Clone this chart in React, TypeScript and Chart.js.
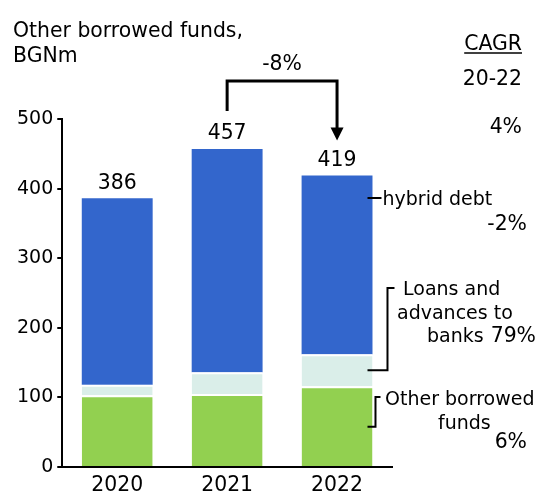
import React, { useEffect, useRef } from "react";
import { Chart, registerables } from "chart.js";

Chart.register(...registerables);

const years = ["2020", "2021", "2022"];
const otherBorrowed = [103, 105, 116];
const loansToBanks = [15, 31, 46];
const hybridDebt = [268, 321, 257];
const totals = [386, 457, 419];
const yTicks = [0, 100, 200, 300, 400, 500];
const changeLabel = "-8%";
const titleLines = ["Other borrowed funds,", "BGNm"];
const cagrHeader = ["CAGR", "20-22"];
const cagrTotal = "4%";
const cagrHybrid = "-2%";
const cagrLoans = "79%";
const cagrOther = "6%";

const FONT = '"DejaVu Sans", Verdana, sans-serif';

const annotations = {
  id: "annotations",
  afterDraw(chart: any) {
    const ctx = chart.ctx;
    const x = chart.scales.x;
    const y = chart.scales.y;
    ctx.save();
    ctx.fillStyle = "#000";
    ctx.strokeStyle = "#000";
    ctx.font = "20.4px " + FONT;
    ctx.textBaseline = "alphabetic";

    // title
    ctx.textAlign = "left";
    ctx.fillText(titleLines[0], 13, 37);
    ctx.fillText(titleLines[1], 13, 62);

    // totals above bars
    ctx.textAlign = "center";
    const cx = years.map((_, i) => x.getPixelForValue(i));
    const tops = totals.map((t) => y.getPixelForValue(t));
    totals.forEach((t, i) => {
      ctx.fillText(String(t), cx[i], tops[i] - 9.5);
    });

    // bracket -8%
    const hy = 81;
    ctx.lineWidth = 3;
    ctx.beginPath();
    ctx.moveTo(cx[1], tops[1] - 38);
    ctx.lineTo(cx[1], hy);
    ctx.lineTo(cx[2], hy);
    ctx.lineTo(cx[2], tops[2] - 47);
    ctx.stroke();
    ctx.beginPath();
    ctx.moveTo(cx[2] - 6.5, tops[2] - 48);
    ctx.lineTo(cx[2] + 6.5, tops[2] - 48);
    ctx.lineTo(cx[2], tops[2] - 35);
    ctx.closePath();
    ctx.fill();
    ctx.fillText(changeLabel, (cx[1] + cx[2]) / 2, 70);

    // CAGR column
    ctx.textAlign = "right";
    ctx.fillText(cagrHeader[0], 522, 50);
    const w = ctx.measureText(cagrHeader[0]).width;
    ctx.lineWidth = 1.5;
    ctx.beginPath();
    ctx.moveTo(522 - w, 53);
    ctx.lineTo(522, 53);
    ctx.stroke();
    ctx.fillText(cagrHeader[1], 522, 85);
    ctx.fillText(cagrTotal, 522, 133);
    ctx.fillText(cagrHybrid, 527, 230);
    ctx.fillText(cagrLoans, 536, 342);
    ctx.fillText(cagrOther, 527, 448);

    // series labels
    const barRight = chart.getDatasetMeta(2).data[2];
    const right = barRight.x + barRight.width / 2;
    ctx.font = "19px " + FONT;
    ctx.lineWidth = 2;
    // hybrid debt
    const hyY = 198;
    ctx.beginPath();
    ctx.moveTo(right - 5, hyY);
    ctx.lineTo(right + 9, hyY);
    ctx.stroke();
    ctx.textAlign = "left";
    ctx.fillText("hybrid debt", right + 10, hyY + 7);

    // loans
    const loanMid = y.getPixelForValue(otherBorrowed[2] + loansToBanks[2] / 2);
    ctx.beginPath();
    ctx.moveTo(right - 5, loanMid);
    ctx.lineTo(right + 15, loanMid);
    ctx.lineTo(right + 15, 288);
    ctx.lineTo(right + 22, 288);
    ctx.stroke();
    ctx.fillText("Loans and", 403, 295);
    ctx.fillText("advances to", 397, 319);
    ctx.fillText("banks", 427, 342);

    // other borrowed
    const otherMid = y.getPixelForValue(otherBorrowed[2] / 2);
    ctx.beginPath();
    ctx.moveTo(right - 5, otherMid);
    ctx.lineTo(right + 3, otherMid);
    ctx.lineTo(right + 3, 397);
    ctx.lineTo(right + 8, 397);
    ctx.stroke();
    ctx.fillText("Other borrowed", 385, 405);
    ctx.fillText("funds", 438, 429);

    ctx.restore();
  },
};

export default function App() {
  const ref = useRef<HTMLCanvasElement>(null);
  useEffect(() => {
    const border = { top: 2, left: 0, right: 0, bottom: 0 };
    const chart = new Chart(ref.current!, {
      type: "bar",
      data: {
        labels: years,
        datasets: [
          {
            label: "Other borrowed funds",
            data: otherBorrowed,
            backgroundColor: "#92D050",
            borderColor: "#ffffff",
            borderWidth: border,
            borderSkipped: false,
          },
          {
            label: "Loans and advances to banks",
            data: loansToBanks,
            backgroundColor: "#DAEEE9",
            borderColor: "#ffffff",
            borderWidth: border,
            borderSkipped: false,
          },
          {
            label: "hybrid debt",
            data: hybridDebt,
            backgroundColor: "#3366CC",
            borderWidth: 0,
          },
        ],
      },
      options: {
        responsive: false,
        animation: false,
        devicePixelRatio: 1,
        layout: { padding: { left: 13, right: 148, top: 119, bottom: 0 } },
        plugins: {
          legend: { display: false },
          tooltip: { enabled: false },
        },
        datasets: { bar: { barPercentage: 0.645, categoryPercentage: 1 } },
        scales: {
          x: {
            stacked: true,
            afterFit: (s: any) => {
              s.height = 26;
            },
            grid: { display: true, drawOnChartArea: false, drawTicks: false },
            border: { display: true, color: "#000", width: 2 },
            ticks: { color: "#000", font: { family: FONT, size: 20.4 }, padding: 6 },
          },
          y: {
            stacked: true,
            min: 0,
            max: 500,
            afterBuildTicks: (s: any) => {
              s.ticks = yTicks.map((v) => ({ value: v }));
            },
            grid: { display: true, drawOnChartArea: false, drawTicks: true, tickLength: 5, color: "#000", lineWidth: 2 },
            border: { display: true, color: "#000", width: 2 },
            ticks: { color: "#000", font: { family: FONT, size: 19 }, padding: 4 },
          },
        },
      },
      plugins: [annotations],
    });
    return () => chart.destroy();
  }, []);
  return (
    <div style={{ position: "fixed", left: 0, top: 0, width: 540, height: 493, overflow: "hidden" }}>
      <canvas ref={ref} width={540} height={493} style={{ width: 540, height: 493, display: "block" }} />
    </div>
  );
}
